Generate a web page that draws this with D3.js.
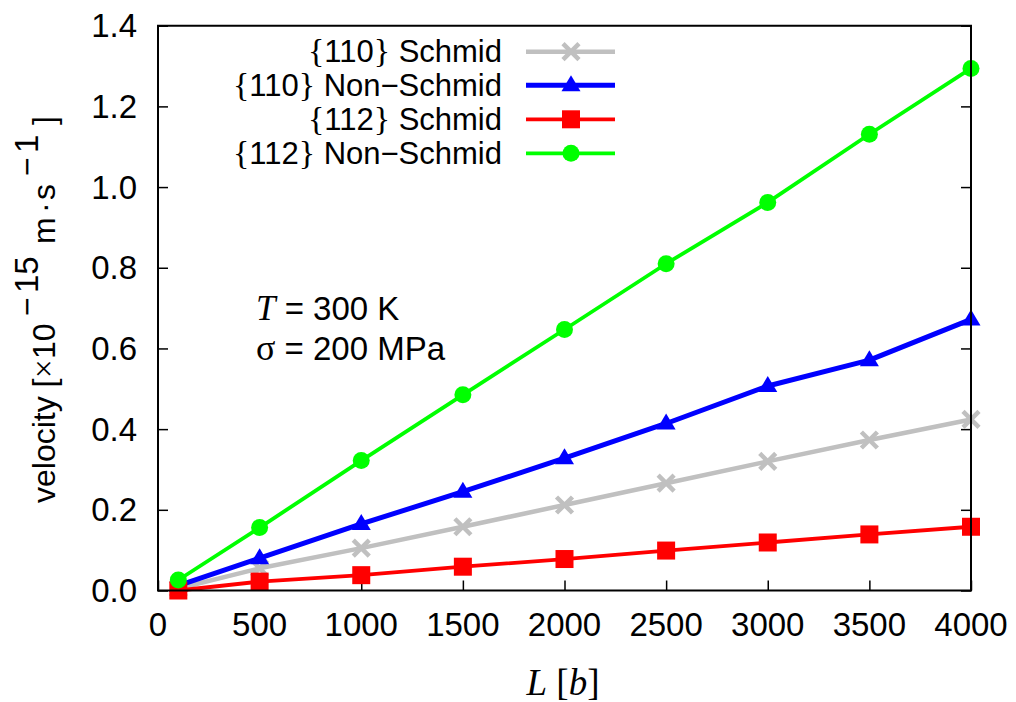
<!DOCTYPE html>
<html><head><meta charset="utf-8">
<script src="https://cdn.jsdelivr.net/npm/d3@7/dist/d3.min.js"></script>
<style>body{margin:0;background:#fff}svg{display:block}</style>
</head><body>
<svg id="c" width="1016" height="702"></svg>
<script>
const L = [100, 500, 1000, 1500, 2000, 2500, 3000, 3500, 4000];
const s110 = [0.005, 0.055, 0.105, 0.158, 0.212, 0.266, 0.320, 0.373, 0.424];
const ns110 = [0.012, 0.080, 0.165, 0.245, 0.328, 0.414, 0.507, 0.571, 0.672];
const s112 = [0.000, 0.022, 0.038, 0.059, 0.078, 0.099, 0.119, 0.139, 0.158];
const ns112 = [0.026, 0.156, 0.322, 0.485, 0.647, 0.810, 0.962, 1.131, 1.294];
const xTicks = [0, 500, 1000, 1500, 2000, 2500, 3000, 3500, 4000];
const yTicks = [0.0, 0.2, 0.4, 0.6, 0.8, 1.0, 1.2, 1.4];
const seriesNames = ["{110} Schmid", "{110} Non\u2212Schmid", "{112} Schmid", "{112} Non\u2212Schmid"];

const series = [
  {name: seriesNames[0], vals: s110, color: "#c0c0c0", w: 4.5, m: "cross"},
  {name: seriesNames[1], vals: ns110, color: "#0000ff", w: 5, m: "tri"},
  {name: seriesNames[2], vals: s112, color: "#ff0000", w: 3.8, m: "sq"},
  {name: seriesNames[3], vals: ns112, color: "#00ff00", w: 3.8, m: "circ"}
];

const svg = d3.select("#c");
const X0 = 158, X1 = 971, Y0 = 590.5, Y1 = 25.7;
const x = d3.scaleLinear().domain([0, 4000]).range([X0, X1]);
const y = d3.scaleLinear().domain([0, 1.4]).range([Y0, Y1]);
const SANS = "'Liberation Sans', Arial, Helvetica, sans-serif";
const SERIF = "'Liberation Serif', 'Times New Roman', serif";

// axes ticks (inward)
const gx = svg.append("g").attr("transform", `translate(0,${Y0})`)
  .call(d3.axisTop(x).tickValues(xTicks).tickSize(10).tickFormat(""));
const gy = svg.append("g").attr("transform", `translate(${X0},0)`)
  .call(d3.axisRight(y).tickValues(yTicks).tickSize(10).tickFormat(""));
const gy2 = svg.append("g").attr("transform", `translate(${X1},0)`)
  .call(d3.axisLeft(y).tickValues(yTicks).tickSize(10).tickFormat(""));
[gx, gy, gy2].forEach(g => { g.select(".domain").remove(); g.selectAll("line").attr("stroke", "#000").attr("stroke-width", 1.5); });

// tick labels
svg.append("g").selectAll("text").data(xTicks).join("text")
  .attr("x", d => x(d)).attr("y", 636).attr("text-anchor", "middle")
  .attr("font-family", SANS).attr("font-size", 33).text(d => d);
svg.append("g").selectAll("text").data(yTicks).join("text")
  .attr("x", 137).attr("y", d => y(d)).attr("dy", "0.35em").attr("text-anchor", "end")
  .attr("font-family", SANS).attr("font-size", 33).text(d => d.toFixed(1));

// lines
const line = d3.line().x((d, i) => x(L[i])).y(d => y(d));
function marker(g, type, color, cx, cy) {
  if (type === "circ") g.append("circle").attr("cx", cx).attr("cy", cy).attr("r", 8.5).attr("fill", color);
  else if (type === "sq") g.append("rect").attr("x", cx - 9).attr("y", cy - 9).attr("width", 18).attr("height", 18).attr("fill", color);
  else if (type === "tri") g.append("path").attr("d", `M${cx},${cy - 10}L${cx + 9.5},${cy + 6}L${cx - 9.5},${cy + 6}Z`).attr("fill", color);
  else g.append("path").attr("d", `M${cx - 8},${cy - 8}L${cx + 8},${cy + 8}M${cx - 8},${cy + 8}L${cx + 8},${cy - 8}`)
    .attr("stroke", color).attr("stroke-width", 4.5).attr("fill", "none");
}
series.forEach(s => {
  const g = svg.append("g");
  g.append("path").attr("d", line(s.vals)).attr("fill", "none").attr("stroke", s.color)
    .attr("stroke-width", s.w).attr("stroke-linejoin", "round");
  s.vals.forEach((v, i) => marker(g, s.m, s.color, x(L[i]), y(v)));
});

// frame
svg.append("path").attr("d", `M${X0},${Y1}H${X1}V${Y0}H${X0}Z`).attr("fill", "none")
  .attr("stroke", "#000").attr("stroke-width", 2);

// legend
const legY = [51.7, 85.3, 119.3, 153.3];
series.forEach((s, i) => {
  const cy = legY[i];
  const t = svg.append("text").attr("x", 502).attr("y", cy + 10.5).attr("text-anchor", "end")
    .attr("font-family", SANS).attr("font-size", 31);
  const parts = s.name.match(/^\{(\d+)\} (.*)$/);
  t.append("tspan").attr("font-family", SERIF).attr("font-size", 34).text("{");
  t.append("tspan").text(parts[1]);
  t.append("tspan").attr("font-family", SERIF).attr("font-size", 34).text("}");
  t.append("tspan").text(" " + parts[2]);
  svg.append("line").attr("x1", 526).attr("x2", 615).attr("y1", cy).attr("y2", cy)
    .attr("stroke", s.color).attr("stroke-width", s.w);
  marker(svg, s.m, s.color, 571, cy);
});

// annotation
const a1 = svg.append("text").attr("x", 256).attr("y", 320).attr("font-family", SANS).attr("font-size", 33);
a1.append("tspan").attr("font-family", SERIF).attr("font-style", "italic").attr("font-size", 35).text("T");
a1.append("tspan").text(" = 300 K");
const a2 = svg.append("text").attr("x", 256).attr("y", 359.5).attr("font-family", SANS).attr("font-size", 33);
a2.append("tspan").attr("font-family", SERIF).attr("font-size", 36).text("\u03c3");
a2.append("tspan").text(" = 200 MPa");

// x label
const xl = svg.append("text").attr("x", 563).attr("y", 695).attr("text-anchor", "middle")
  .attr("font-family", SERIF).attr("font-size", 37);
xl.append("tspan").attr("font-style", "italic").text("L");
xl.append("tspan").text(" [");
xl.append("tspan").attr("font-style", "italic").text("b");
xl.append("tspan").text("]");

// y label (pieces laid along the rotated axis)
const yl = svg.append("g").attr("transform", "translate(55,503) rotate(-90)")
  .attr("font-family", SANS).attr("font-size", 32);
yl.append("text").attr("x", 0).attr("y", 0).text("velocity [");
yl.append("text").attr("x", 125).attr("y", 0).attr("font-family", SERIF).attr("font-size", 33).text("\u00d7");
yl.append("text").attr("x", 144).attr("y", 0).text("10");
yl.append("text").attr("x", 187).attr("y", -17).attr("font-size", 32).text("\u2212");
yl.append("text").attr("x", 210).attr("y", -17).attr("font-size", 33).text("15");
yl.append("text").attr("x", 259).attr("y", 0).text("m");
yl.append("text").attr("x", 290).attr("y", 0).text("\u00b7");
yl.append("text").attr("x", 303).attr("y", 0).text("s");
yl.append("text").attr("x", 327).attr("y", -17).attr("font-size", 32).text("\u2212");
yl.append("text").attr("x", 350).attr("y", -17).attr("font-size", 33).text("1");
yl.append("text").attr("x", 378).attr("y", 0).text("]");
</script>
</body></html>
